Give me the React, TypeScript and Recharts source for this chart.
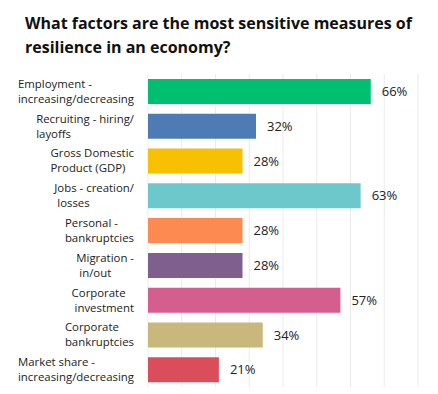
import React from "react";
import { BarChart, Bar, XAxis, YAxis, CartesianGrid, Cell, LabelList } from "recharts";

const categories = [
  "Employment -\nincreasing/decreasing",
  "Recruiting - hiring/\nlayoffs",
  "Gross Domestic\nProduct (GDP)",
  "Jobs - creation/\n losses",
  "Personal -\nbankruptcies",
  "Migration -\n in/out",
  "Corporate\n investment",
  "Corporate\nbankruptcies",
  "Market share -\nincreasing/decreasing",
];
const values = [66, 32, 28, 63, 28, 28, 57, 34, 21];
const colors = ["#00bf70", "#4f7bb4", "#f7c000", "#6dc8cc", "#fd8a50", "#7e5f8d", "#d45e8e", "#c8b87b", "#dc4d5c"];
const gridTicks = [0, 10, 20, 30, 40, 50, 60, 70, 80];
const titleLines = ["What factors are the most sensitive measures of", "resilience in an economy?"];

const FONT = "'Open Sans', sans-serif";
const data = categories.map((name, i) => ({ name, value: values[i] }));

let ctx: CanvasRenderingContext2D | null = null;
function textWidth(s: string, size: number) {
  if (!ctx) ctx = document.createElement("canvas").getContext("2d");
  if (!ctx) return s.length * size * 0.55;
  ctx.font = `${size}px 'Open Sans'`;
  return ctx.measureText(s).width;
}

function CategoryTick(props: any) {
  const { x, y, payload } = props;
  const lines: string[] = String(payload.value).split("\n");
  const size = 11.4;
  const maxW = Math.max(...lines.map((l) => textWidth(l, size)));
  const left = x - 14 - maxW;
  const lh = 15;
  const start = y - ((lines.length - 1) * lh) / 2 - 0.5;
  return (
    <text x={left} y={start} fill="#222" fontSize={size} fontFamily={FONT} style={{ whiteSpace: "pre" }}>
      {lines.map((l, i) => (
        <tspan key={i} x={left} y={start + i * lh} dominantBaseline="central">
          {l}
        </tspan>
      ))}
    </text>
  );
}

export default function App() {
  return (
    <div style={{ position: "absolute", left: 0, top: 0, width: 438, height: 394, background: "#fff" }}>
      <div
        style={{
          position: "absolute",
          left: 25,
          top: 11,
          fontFamily: FONT,
          fontWeight: 700,
          fontSize: 16,
          lineHeight: "24px",
          color: "#111",
          whiteSpace: "nowrap",
        }}
      >
        {titleLines.map((t, i) => (
          <div key={i}>{t}</div>
        ))}
      </div>
      <div style={{ position: "absolute", left: 0, top: 0 }}>
        <BarChart
          width={438}
          height={394}
          data={data}
          layout="vertical"
          margin={{ top: 74, right: 20, bottom: 7, left: 0 }}
        >
          <CartesianGrid horizontal={false} stroke="#ebebeb" />
          <XAxis type="number" domain={[0, 80]} ticks={gridTicks} hide />
          <YAxis
            type="category"
            dataKey="name"
            width={148}
            axisLine={false}
            tickLine={false}
            tickSize={0}
            tickMargin={0}
            interval={0}
            tick={<CategoryTick />}
          />
          <Bar dataKey="value" barSize={25} isAnimationActive={false}>
            {data.map((d, i) => (
              <Cell key={d.name} fill={colors[i]} />
            ))}
            <LabelList
              dataKey="value"
              position="right"
              offset={11}
              fill="#222"
              fontSize={13}
              fontFamily={FONT}
              formatter={(v: any) => `${v}%`}
            />
          </Bar>
        </BarChart>
      </div>
    </div>
  );
}
